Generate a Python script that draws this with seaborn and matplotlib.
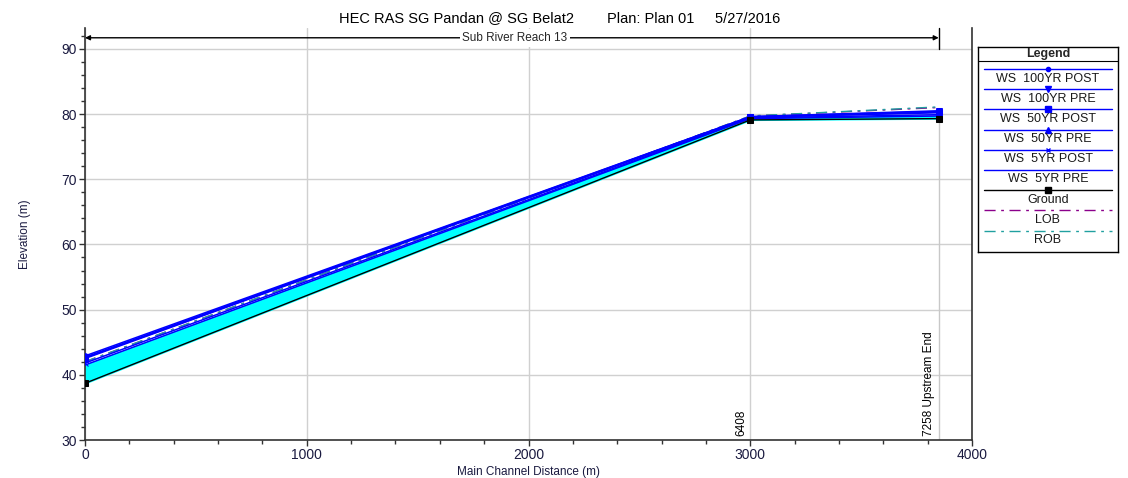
import matplotlib
matplotlib.use('Agg')
import matplotlib.pyplot as plt
from matplotlib.ticker import MultipleLocator
import seaborn as sns
import pandas as pd

stations = [0, 3000, 3850]
station_labels = ['', '6408', '7258 Upstream End']
ground = [38.7, 79.1, 79.3]
ws_100_post = [42.9, 79.6, 80.5]
ws_100_pre = [42.7, 79.6, 80.4]
ws_50_post = [42.6, 79.5, 80.3]
ws_50_pre = [42.5, 79.5, 80.2]
ws_5_post = [41.8, 79.4, 79.9]
ws_5_pre = [41.5, 79.3, 79.7]
lob = [42.0, 79.7, 81.0]
rob = [42.0, 79.7, 81.1]

legend_names = ['WS  100YR POST', 'WS  100YR PRE', 'WS  50YR POST', 'WS  50YR PRE',
                'WS  5YR POST', 'WS  5YR PRE', 'Ground', 'LOB', 'ROB']

sns.set_theme(style='white')
plt.rcParams['font.family'] = ['Liberation Sans', 'DejaVu Sans']

fig = plt.figure(figsize=(11.28, 4.78), dpi=100)
ax = fig.add_axes([85 / 1128, 38 / 478, 887 / 1128, 412 / 478])

df = pd.DataFrame({'x': stations, 'ground': ground, 'ws_5_pre': ws_5_pre})
ax.fill_between(df['x'], df['ground'], df['ws_5_pre'], color='#00FFFF', zorder=2)

blue = '#0000FF'
series = [
    (ws_100_post, blue, 'o', 4),
    (ws_100_pre, blue, 'v', 5),
    (ws_50_post, blue, 's', 5),
    (ws_50_pre, blue, '^', 5),
    (ws_5_post, blue, 'x', 4),
    (ws_5_pre, blue, None, 0),
]
for vals, col, mk, ms in series:
    sns.lineplot(x=stations, y=vals, color=col, marker=mk, markersize=ms,
                 markeredgecolor=col, linewidth=1.1, ax=ax, zorder=4)

sns.lineplot(x=stations, y=ground, color='black', marker='s', markersize=5,
             markeredgecolor='black', linewidth=1.0, ax=ax, zorder=5)
sns.lineplot(x=stations, y=lob, color='#8B008B', linewidth=1.0, ax=ax, zorder=3)
ax.lines[-1].set_dashes([8, 4, 2, 4])
sns.lineplot(x=stations, y=rob, color='#20A0A0', linewidth=1.0, ax=ax, zorder=3)
ax.lines[-1].set_dashes([8, 4, 2, 4])

ax.set_xlim(0, 4000)
ax.set_ylim(30, 93.2)
ax.xaxis.set_major_locator(MultipleLocator(1000))
ax.xaxis.set_minor_locator(MultipleLocator(200))
ax.set_yticks([30, 40, 50, 60, 70, 80, 90])
ax.yaxis.set_minor_locator(MultipleLocator(2))
ax.tick_params(axis='both', which='both', direction='out', length=4, width=1,
               colors='#333333', labelsize=10, bottom=True, left=True, pad=2)
ax.tick_params(axis='both', which='minor', length=3)
for lab in ax.get_xticklabels() + ax.get_yticklabels():
    lab.set_color('#1a1a40')
ax.grid(True, which='major', color='#d0d0d0', linewidth=1.0)
ax.set_axisbelow(True)
for side in ['left', 'bottom', 'right']:
    ax.spines[side].set_color('#333333')
    ax.spines[side].set_linewidth(1.2)
ax.spines['top'].set_visible(False)

# ligne verticale de la section amont
ax.plot([stations[-1], stations[-1]], [30, ground[-1]], color='#c8c8c8', linewidth=1.0, zorder=1)
for xs, txt in zip(stations, station_labels):
    if txt:
        ax.text(xs - 15, 30.6, txt, rotation=90, ha='right', va='bottom', fontsize=8.5,
                color='black')

ax.set_xlabel('Main Channel Distance (m)', fontsize=8.5, color='#1a1a40', labelpad=3)
ax.set_ylabel('Elevation (m)', fontsize=8.5, color='#1a1a40', labelpad=22)

# fleche du bief
ax.annotate('', xy=(0, 91.7), xytext=(stations[-1], 91.7),
            arrowprops=dict(arrowstyle='<|-|>', color='black', lw=1.0, mutation_scale=7,
                            shrinkA=0, shrinkB=0), annotation_clip=False)
ax.plot([stations[-1], stations[-1]], [90, 93.2], color='black', linewidth=1.0, clip_on=False)
ax.text(1939, 91.7, 'Sub River Reach 13', ha='center', va='center', fontsize=8.5,
        bbox=dict(facecolor='white', edgecolor='none', pad=2))

fig.text(560 / 1128, 1 - 18 / 478, 'HEC RAS SG Pandan @ SG Belat2        Plan: Plan 01     5/27/2016',
         ha='center', va='center', fontsize=10.5, color='black')

# legende type HEC-RAS
lg = fig.add_axes([978 / 1128, 1 - 252 / 478, 140 / 1128, 205 / 478])
lg.set_xlim(0, 140)
lg.set_ylim(205, 0)
lg.set_xticks([])
lg.set_yticks([])
for s in lg.spines.values():
    s.set_color('black')
    s.set_linewidth(1.0)
lg.axhline(14, color='black', linewidth=0.8)
lg.text(70, 7, 'Legend', ha='center', va='center', fontsize=9, fontweight='bold')
styles = [(blue, 'o', 3, None), (blue, 'v', 4, None), (blue, 's', 4, None), (blue, '^', 4, None),
          (blue, 'x', 3, None), (blue, None, 0, None), ('black', 's', 4, None),
          ('#8B008B', None, 0, [8, 4, 2, 4]), ('#20A0A0', None, 0, [8, 4, 2, 4])]
for i, (name, (col, mk, ms, dash)) in enumerate(zip(legend_names, styles)):
    yl = 22 + i * 20.2
    ln, = lg.plot([6, 134], [yl, yl], color=col, linewidth=1.0)
    if dash:
        ln.set_dashes(dash)
    if mk:
        lg.plot([70], [yl], marker=mk, color=col, markersize=ms, markeredgecolor=col)
    lg.text(70, yl + 9.5, name, ha='center', va='center', fontsize=9, color='#1a1a1a')

fig.savefig('out.png', dpi=100)
